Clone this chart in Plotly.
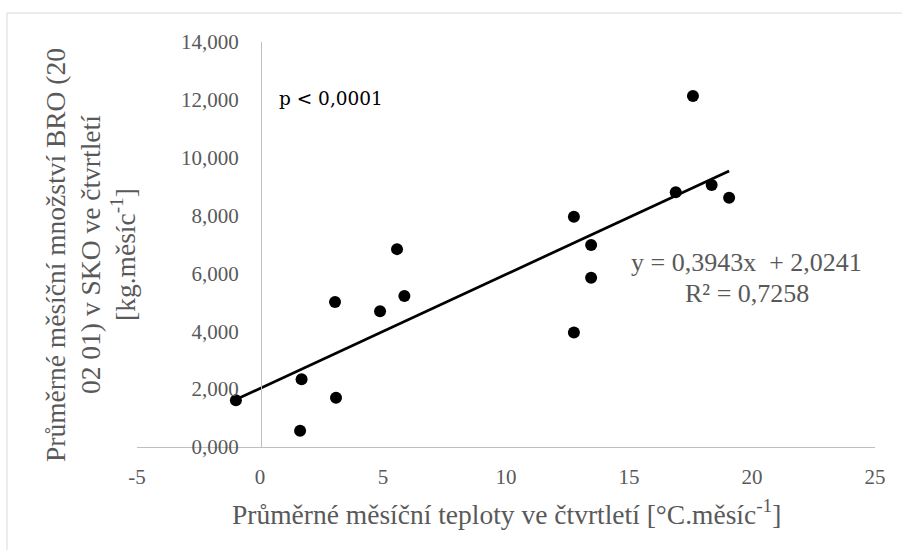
import plotly.graph_objects as go

# Quarterly mean monthly temperature [°C] and mean monthly amount of waste 20 02 01 in mixed municipal waste
temperature = [-0.98, 1.69, 1.63, 3.05, 3.09, 4.88, 5.87, 5.57,
               12.76, 12.76, 13.46, 13.46, 16.90, 17.60, 18.36, 19.07]
amount = [1.62, 2.34, 0.56, 5.01, 1.70, 4.69, 5.22, 6.84,
          7.96, 3.96, 6.98, 5.85, 8.81, 12.13, 9.06, 8.62]

# Linear trend as reported
slope = 0.3943
intercept = 2.0241
r_squared = 0.7258

x_tick_vals = [-5, 0, 5, 10, 15, 20, 25]
x_tick_text = ["-5", "0", "5", "10", "15", "20", "25"]
y_tick_vals = [0, 2, 4, 6, 8, 10, 12, 14]
y_tick_text = ["0,000", "2,000", "4,000", "6,000", "8,000", "10,000", "12,000", "14,000"]

W, H = 902, 550
L, R, T, B = 137, 27, 42, 103
PW, PH = W - L - R, H - T - B


def px(x):
    return (x - L) / PW


def py(y):
    return (H - B - y) / PH


grey = "#595959"
serif = "Liberation Serif, Times New Roman, serif"

trend_x = [min(temperature), max(temperature)]
trend_y = [slope * v + intercept for v in trend_x]

fig = go.Figure()
fig.add_trace(go.Scatter(
    x=temperature, y=amount, mode="markers",
    marker=dict(color="black", size=12),
    showlegend=False, hoverinfo="x+y"))
fig.add_trace(go.Scatter(
    x=trend_x, y=trend_y, mode="lines",
    line=dict(color="black", width=2.75),
    showlegend=False, hoverinfo="skip"))

fig.update_layout(
    width=W, height=H,
    margin=dict(l=L, r=R, t=T, b=B, autoexpand=False),
    paper_bgcolor="white", plot_bgcolor="white",
    font=dict(family=serif, size=21, color=grey),
    xaxis=dict(range=[-5, 25], tickvals=x_tick_vals, ticktext=x_tick_text,
               showgrid=False, zeroline=False, showline=True,
               linecolor="#bfbfbf", linewidth=1, ticks="",
               ticklabelstandoff=11, automargin=False,
               tickfont=dict(family=serif, size=21, color=grey)),
    yaxis=dict(range=[0, 14], tickvals=y_tick_vals, ticktext=y_tick_text,
               anchor="free", position=px(261),
               showgrid=False, zeroline=False, showline=True,
               linecolor="#bfbfbf", linewidth=1, ticks="",
               ticklabelstandoff=18, automargin=False,
               tickfont=dict(family=serif, size=21, color=grey)),
)

# outer chart border
fig.add_shape(type="rect", xref="paper", yref="paper",
              x0=px(7), x1=px(912), y0=py(560), y1=py(13),
              line=dict(color="#d9d9d9", width=1), layer="below")

title_size = 27.5
ann = []
# x-axis title
ann.append(dict(text="Průměrné měsíční teploty ve čtvrtletí [°C.měsíc<sup>-1</sup>]",
                x=px(506), y=py(512), size=title_size))
# y-axis title, three rotated lines
for text, xc in [("Průměrné měsíční množství BRO (20", 55),
                 ("02 01) v SKO ve čtvrtletí", 90),
                 ("[kg.měsíc<sup>-1</sup>]", 123)]:
    ann.append(dict(text=text, x=px(xc), y=py(255), textangle=-90, size=title_size))
# regression equation
ann.append(dict(text=f"y = {slope:.4f}x  + {intercept:.4f}".replace(".", ","),
                x=px(746), y=py(262), size=26))
ann.append(dict(text=f"R² = {r_squared:.4f}".replace(".", ","),
                x=px(747), y=py(293), size=26))

for a in ann:
    size = a.pop("size")
    fig.add_annotation(xref="paper", yref="paper", showarrow=False,
                       xanchor="center", yanchor="middle",
                       font=dict(family=serif, size=size, color=grey), **a)

fig.add_annotation(xref="paper", yref="paper", showarrow=False,
                   text="p < 0,0001", x=px(277), y=py(98),
                   xanchor="left", yanchor="middle",
                   font=dict(family="DejaVu Serif, serif", size=18.5, color="black"))

fig.write_html("out.html")
